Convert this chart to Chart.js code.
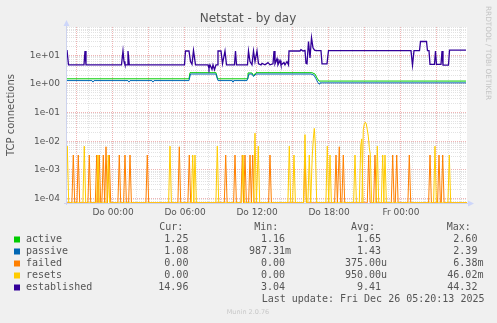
<!DOCTYPE html>
<html><head><meta charset="utf-8">
<script src="https://cdn.jsdelivr.net/npm/chart.js@4/dist/chart.umd.min.js"></script>
<style>html,body{margin:0;padding:0;background:#F0F0F0;}canvas{display:block}</style>
</head><body>
<canvas id="c" width="497" height="323"></canvas>
<script>
// ---- data (time in hours relative to Do 00:00) ----
const X_MIN = -3.833, X_MAX = 29.5;
const Y_MIN = 7.1e-5, Y_MAX = 96;
const STEP = 5 / 60; // rrd sample step (5 minutes)

const xTickHours = [0, 6, 12, 18, 24];
const xTickLabels = ['Do 00:00', 'Do 06:00', 'Do 12:00', 'Do 18:00', 'Fr 00:00'];
const yTickValues = [1e-4, 1e-3, 1e-2, 1e-1, 1, 10];
const yTickLabels = ['1e-04', '1e-03', '1e-02', '1e-01', '1e+00', '1e+01'];

const estHours = [-3.833,-3.708,-2.417,-2.333,-2.25,0.708,0.833,0.917,1.0,1.167,
  1.25,1.358,5.958,6.042,6.333,6.458,6.583,6.708,6.875,7.917,
  8.0,8.083,8.25,8.333,8.458,8.583,8.667,8.75,9.0,9.125,
  9.333,9.458,10.125,10.208,10.292,11.208,11.292,11.417,11.583,11.708,
  11.833,12.0,12.125,12.333,12.417,12.667,12.917,13.083,13.333,13.417,
  13.5,13.667,13.75,13.917,14.0,14.25,14.333,14.5,14.625,14.667,
  15.583,15.667,15.833,16.0,16.083,16.167,16.292,16.417,16.542,16.667,
  16.792,16.917,17.333,17.417,17.833,17.958,24.833,24.958,25.083,25.542,
  25.625,26.125,26.208,26.333,26.417,26.792,26.875,26.958,27.333,27.417,
  27.5,27.958,28.042,29.417];
const estValues = [15,4.6,4.6,14,4.6,4.6,14,6,4.6,4.6,
  14,4.6,4.6,14,14,6,4.8,14.5,4.6,4.6,
  3.4,4.6,3.2,4.6,3.1,4.6,4.6,14,14,5,
  14,4.6,4.6,14,4.6,4.6,14,6,4.6,14,
  6,14,5,4.6,5.2,4.6,5.5,4.6,5,14,
  5,7.5,4.6,6.5,4.6,5.5,4.6,6,4.6,14,
  14,15.5,14,14.5,5.2,5,30,8,41,18,
  15,14.5,14.5,5,5,14.3,14.3,4.5,14.3,14.3,
  30,30,14.3,14.3,4.8,4.8,14,4.8,4.8,14,
  4.5,4.5,14.96,14.96];

const activeHours = [-3.833,6.333,6.417,8.583,8.708,11.167,11.25,11.583,11.708,11.917,16.583,16.833,17.0,17.167,29.417];
const activeValues = [1.5,1.5,2.45,2.45,1.5,1.5,2.4,2.4,1.95,2.45,2.45,2.2,1.6,1.25,1.25];

const passiveHours = [-3.833,-1.75,-1.667,-1.583,1.25,1.333,1.417,3.25,3.333,3.417,6.333,6.458,8.583,8.75,9.917,10.0,10.083,11.167,11.333,11.583,11.708,11.917,16.5,16.75,16.917,17.083,17.167,17.25,29.417];
const passiveValues = [1.3,1.3,1.15,1.3,1.3,1.15,1.3,1.3,1.15,1.3,1.3,2.2,2.2,1.3,1.3,1.15,1.3,1.3,2.2,2.2,1.8,2.2,2.2,2.0,1.5,1.1,0.99,1.08,1.08];

// failed / resets: only non-zero 5-minute samples listed, all others are 0
const failedHours = [-3.308,-2.892,-1.975,-1.358,-1.142,-0.808,-0.583,-0.308,0.525,1.0,1.417,2.858,5.525,6.358,9.392,10.167,10.775,11.0,11.417,11.642,13.083,16.0,18.583,18.858,19.192,21.308,21.833,23.308,23.642,24.692,26.417,27.167,27.475];
const failedValues = [3.3e-3,3.3e-3,3.3e-3,3.3e-3,3.3e-3,3.3e-3,6.4e-3,3.3e-3,3.3e-3,3.3e-3,3.3e-3,3.3e-3,6.4e-3,3.3e-3,3.3e-3,3.3e-3,3.3e-3,3.3e-3,3.3e-3,3.3e-3,3.3e-3,3.3e-3,3.3e-3,6.4e-3,3.3e-3,3.3e-3,3.3e-3,3.3e-3,3.3e-3,3.3e-3,3.3e-3,3.3e-3,3.3e-3];

const resetsHours = [-3.808,-2.392,-1.25,-0.392,4.75,6.642,6.833,8.692,10.833,11.833,12.108,14.692,15.083,16.0,16.358,16.608,16.692,16.775,16.858,17.858,18.083,20.167,20.642,20.725,20.858,20.942,21.025,21.108,21.192,21.275,21.358,21.442,22.025,22.475,22.667,26.833,28.025];
const resetsValues = [6.7e-3,6.7e-3,3.3e-3,3.3e-3,6.7e-3,3.3e-3,3.3e-3,6.7e-3,3.3e-3,0.019,6.7e-3,6.7e-3,3.3e-3,0.017,3.3e-3,3.3e-3,0.012,0.028,0.008,6.7e-3,3.3e-3,3.3e-3,6.7e-3,0.012,0.025,0.04,0.046,0.04,0.025,0.015,0.006,0.0035,6.7e-3,3.3e-3,3.3e-3,6.7e-3,3.3e-3];

const legendNames = ['active', 'passive', 'failed', 'resets', 'established'];
const legendColors = ['#00CC00', '#0066B3', '#FF8000', '#FFCC00', '#330099'];
const curVals = ['1.25', '1.08', '0.00', '0.00', '14.96'];
const minVals = ['1.16', '987.31m', '0.00', '0.00', '3.04'];
const avgVals = ['1.65', '1.43', '375.00u', '950.00u', '9.41'];
const maxVals = ['2.60', '2.39', '6.38m', '46.02m', '44.32'];

// ---- build datasets ----
function pairs(h, v) { return h.map((t, i) => ({ x: t, y: v[i] })); }
// rrdtool draws a zero on a log axis at the axis floor
function sparse(h, v) {
  const pts = [{ x: X_MIN - 0.5, y: Y_MIN }];
  const half = STEP * 1.4;
  for (let i = 0; i < h.length; i++) {
    if (i === 0 || h[i] - h[i - 1] > STEP * 1.5) pts.push({ x: h[i] - half, y: Y_MIN });
    pts.push({ x: h[i], y: v[i] });
    if (i === h.length - 1 || h[i + 1] - h[i] > STEP * 1.5) pts.push({ x: h[i] + half, y: Y_MIN });
  }
  pts.push({ x: X_MAX + 0.5, y: Y_MIN });
  return pts;
}

function ds(label, data, color, order, w) {
  return { label, data, borderColor: color, backgroundColor: color, borderWidth: w || 1,
    pointRadius: 0, tension: 0, fill: false, order };
}

const isDecade = v => Math.abs(Math.log10(v) - Math.round(Math.log10(v))) < 1e-6;

const bgPlugin = {
  id: 'munin',
  beforeDraw(chart) {
    const { ctx, chartArea: a } = chart;
    ctx.save();
    ctx.fillStyle = '#F0F0F0';
    ctx.fillRect(0, 0, chart.width, chart.height);
    ctx.fillStyle = '#FFFFFF';
    ctx.fillRect(a.left, a.top, a.right - a.left, a.bottom - a.top);
    ctx.restore();
  },
  afterDraw(chart) {
    const { ctx, chartArea: a } = chart;
    ctx.save();
    // axes
    ctx.strokeStyle = '#CDD3EE';
    ctx.lineWidth = 1;
    ctx.beginPath();
    ctx.moveTo(a.left - 0.5, a.bottom + 2);
    ctx.lineTo(a.left - 0.5, a.top - 4);
    ctx.moveTo(a.left - 3, a.bottom + 0.5);
    ctx.lineTo(a.right + 3, a.bottom + 0.5);
    ctx.stroke();
    ctx.fillStyle = '#CDD6FA';
    ctx.beginPath();
    ctx.moveTo(a.left - 0.5, a.top - 7);
    ctx.lineTo(a.left - 3.5, a.top - 1);
    ctx.lineTo(a.left + 2.5, a.top - 1);
    ctx.closePath(); ctx.fill();
    ctx.beginPath();
    ctx.moveTo(a.right + 7, a.bottom + 0.5);
    ctx.lineTo(a.right + 1, a.bottom - 2.5);
    ctx.lineTo(a.right + 1, a.bottom + 3.5);
    ctx.closePath(); ctx.fill();

    // title
    ctx.fillStyle = '#555555';
    ctx.font = '12px "DejaVu Sans"';
    ctx.textAlign = 'center';
    ctx.textBaseline = 'middle';
    ctx.fillText('Netstat - by day', 248, 19);

    // y title
    ctx.save();
    ctx.translate(11, 115);
    ctx.rotate(-Math.PI / 2);
    ctx.font = '10px "DejaVu Sans"';
    ctx.fillText('TCP connections', 0, 0);
    ctx.restore();

    // right watermark
    ctx.save();
    ctx.translate(487.5, 53);
    ctx.rotate(Math.PI / 2);
    ctx.fillStyle = '#C4C4C4';
    ctx.font = '7.3px "DejaVu Sans"';
    ctx.fillText('RRDTOOL / TOBI OETIKER', 0, 0);
    ctx.restore();

    // legend
    ctx.font = '10px "DejaVu Sans Mono"';
    ctx.fillStyle = '#555555';
    ctx.textAlign = 'left';
    ctx.fillText('Cur:', 159.3, 227.5);
    ctx.fillText('Min:', 254.3, 227.5);
    ctx.fillText('Avg:', 351, 227.5);
    ctx.fillText('Max:', 446.7, 227.5);
    const cols = [[curVals, 188.4], [minVals, 285], [avgVals, 381], [maxVals, 477.4]];
    legendNames.forEach((name, i) => {
      const y = 239.5 + i * 12;
      ctx.fillStyle = legendColors[i];
      ctx.fillRect(14, y - 3, 6, 6);
      ctx.fillStyle = '#555555';
      ctx.textAlign = 'left';
      ctx.fillText(name, 26, y);
      cols.forEach(([arr, right]) => {
        const s = arr[i];
        const m = s.match(/^([0-9.]+)([a-zA-Z]?)$/);
        ctx.textAlign = 'right';
        ctx.fillText(m[1], right, y);
        if (m[2]) { ctx.textAlign = 'left'; ctx.fillText(m[2], right, y); }
      });
    });
    ctx.textAlign = 'left';
    ctx.fillText('Last update: Fri Dec 26 05:20:13 2025', 261.7, 299.5);
    ctx.textAlign = 'center';
    ctx.fillStyle = '#C8C8C8';
    ctx.font = '6.5px "DejaVu Sans"';
    ctx.fillText('Munin 2.0.76', 248, 312);
    ctx.restore();
  }
};

new Chart(document.getElementById('c'), {
  type: 'line',
  data: {
    datasets: [
      ds('active', pairs(activeHours, activeValues), legendColors[0], 4),
      ds('passive', pairs(passiveHours, passiveValues), legendColors[1], 3),
      ds('failed', sparse(failedHours, failedValues), legendColors[2], 2),
      ds('resets', sparse(resetsHours, resetsValues), legendColors[3], 1),
      ds('established', pairs(estHours, estValues), legendColors[4], 0, 1.3)
    ]
  },
  options: {
    responsive: false,
    animation: false,
    devicePixelRatio: 1,
    events: [],
    layout: { padding: { left: 0, top: 27, right: 30, bottom: 100 } },
    plugins: { legend: { display: false }, title: { display: false }, tooltip: { enabled: false } },
    scales: {
      x: {
        type: 'linear', min: X_MIN, max: X_MAX,
        afterFit: s => { s.height = 20; },
        afterBuildTicks: s => {
          const t = [];
          for (let h = Math.ceil(X_MIN); h <= Math.floor(X_MAX); h++) t.push({ value: h });
          s.ticks = t;
        },
        grid: {
          drawTicks: false,
          color: c => (c.tick && c.tick.value % 3 === 0) ? '#EFB4B4' : '#E2E2E2'
        },
        border: { display: false, dash: [1, 1] },
        ticks: {
          autoSkip: false, maxRotation: 0, padding: 4,
          color: '#555555', font: { family: 'DejaVu Sans', size: 9 },
          callback: v => { const i = xTickHours.indexOf(v); return i >= 0 ? xTickLabels[i] : ''; }
        }
      },
      y: {
        type: 'logarithmic', min: Y_MIN, max: Y_MAX,
        afterFit: s => { s.width = 67; },
        afterBuildTicks: s => {
          const t = [];
          for (let e = -5; e <= 1; e++) for (let k = 1; k <= 9; k++) {
            const v = k * Math.pow(10, e);
            if (v >= Y_MIN && v <= Y_MAX) t.push({ value: v });
          }
          s.ticks = t;
        },
        grid: {
          drawTicks: false,
          color: c => (c.tick && isDecade(c.tick.value)) ? '#EFB4B4' : '#E2E2E2'
        },
        border: { display: false, dash: [1, 1] },
        ticks: {
          autoSkip: false, padding: 7,
          color: '#555555', font: { family: 'DejaVu Sans', size: 9 },
          callback: v => {
            const i = yTickValues.findIndex(t => Math.abs(t - v) / t < 1e-6);
            return i >= 0 ? yTickLabels[i] : '';
          }
        }
      }
    }
  },
  plugins: [bgPlugin]
});
</script>
</body></html>
